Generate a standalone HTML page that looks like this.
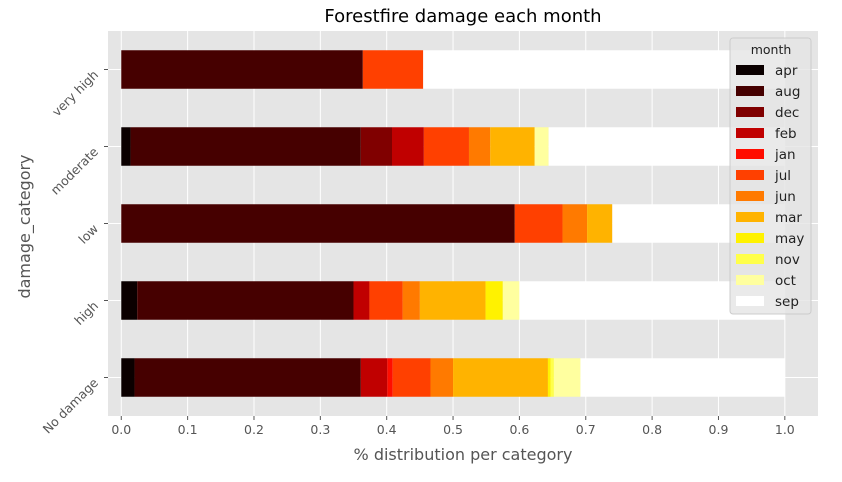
<!DOCTYPE html>
<html><head><meta charset="utf-8"><style>
body{margin:0;background:#fff;font-family:"Liberation Sans","DejaVu Sans",sans-serif;}
svg text{font-family:"DejaVu Sans","Liberation Sans",sans-serif;}
</style></head><body>
<svg id="c" width="842" height="477" xmlns="http://www.w3.org/2000/svg"></svg>
<script>
const categories = ["No damage","high","low","moderate","very high"];
const months = ["apr","aug","dec","feb","jan","jul","jun","mar","may","nov","oct","sep"];
const colors = ["#0b0000","#460000","#800000","#c00000","#ff0d00","#ff4000","#ff7a00","#ffb300","#fff200","#ffff4a","#ffff9f","#ffffff"];
const noDamage = [0.020,0.341,0,0.040,0.008,0.057,0.034,0.143,0.004,0.005,0.040,0.308];
const high     = [0.024,0.326,0,0.024,0,0.050,0.026,0.099,0.026,0,0.025,0.400];
const low      = [0,0.593,0,0,0,0.072,0.037,0.038,0,0,0,0.260];
const moderate = [0.014,0.347,0.047,0.048,0,0.068,0.032,0.067,0,0,0.021,0.356];
const veryHigh = [0,0.364,0,0,0,0.091,0,0,0,0,0,0.545];
const series = [noDamage,high,low,moderate,veryHigh];
const xTicks = [0,0.1,0.2,0.3,0.4,0.5,0.6,0.7,0.8,0.9,1.0];
const xTickLabels = ["0.0","0.1","0.2","0.3","0.4","0.5","0.6","0.7","0.8","0.9","1.0"];

const NS="http://www.w3.org/2000/svg";
const svg=document.getElementById('c');
const L=108,R=818,T=31,B=416;
const xMin=-0.02,xMax=1.05;
const X=v=>L+(v-xMin)/(xMax-xMin)*(R-L);
const Y=i=>B-(i+0.5)/categories.length*(B-T);
const bandH=(B-T)/categories.length*0.5;
function mk(tag,attrs,parent){const e=document.createElementNS(NS,tag);for(const k in attrs)e.setAttribute(k,attrs[k]);(parent||svg).appendChild(e);return e;}

let e=mk('rect',{x:L,y:T,width:R-L,height:B-T,fill:'#e5e5e5'});


xTicks.forEach((v,i)=>{
  let g=mk('line',{x1:X(v),x2:X(v),y1:T,y2:B,stroke:'#fff','stroke-width':1});
  
  
  let t=mk('line',{x1:X(v),x2:X(v),y1:B,y2:B+4,stroke:'#555'});
  
  
  let l=mk('text',{x:X(v),y:B+18,'text-anchor':'middle','font-size':12.5,fill:'#555'});
  l.textContent=xTickLabels[i];
  
  
});
categories.forEach((c,i)=>{
  let g=mk('line',{x1:L,x2:R,y1:Y(i),y2:Y(i),stroke:'#fff'});
  
  
  let t=mk('line',{x1:L-4,x2:L,y1:Y(i),y2:Y(i),stroke:'#555'});
  
  
  const ax=L-9, ay=Y(i)+6;
  let l=mk('text',{x:ax,y:ay,'text-anchor':'end','font-size':12.5,fill:'#555',transform:`rotate(-45 ${ax} ${ay})`});
  l.textContent=c;
  
  
});
series.forEach((vals,i)=>{
  let cum=0;
  vals.forEach((v,j)=>{
    if(v>0){
      let r=mk('rect',{x:X(cum),y:Y(i)-bandH/2,width:X(cum+v)-X(cum),height:bandH,fill:colors[j]});
      
      
    }
    cum+=v;
  });
});
let tt=mk('text',{x:(L+R)/2,y:22,'text-anchor':'middle','font-size':18,fill:'#000'});
tt.textContent='Forestfire damage each month';


let xt=mk('text',{x:(L+R)/2,y:460,'text-anchor':'middle','font-size':16,fill:'#555'});
xt.textContent='% distribution per category';


let yt=mk('text',{x:30,y:(T+B)/2+3,'text-anchor':'middle','font-size':16,fill:'#555',transform:`rotate(-90 30 ${(T+B)/2+3})`});
yt.textContent='damage_category';


let lg=mk('g',{});


mk('rect',{x:730,y:38,width:81,height:276,rx:3,fill:'#e5e5e5','fill-opacity':0.8,stroke:'#ccc'},lg);
let lt=mk('text',{x:771,y:54,'text-anchor':'middle','font-size':12.5,fill:'#222'},lg);
lt.textContent='month';
months.forEach((m,j)=>{
  const cy=70+j*21;
  let s=mk('rect',{x:736,y:cy-5,width:28,height:10,fill:colors[j]},lg);
  
  
  let t=mk('text',{x:775,y:cy+5,'font-size':13.5,fill:'#222'},lg);
  t.textContent=m;
  
  
});
</script>
</body></html>
